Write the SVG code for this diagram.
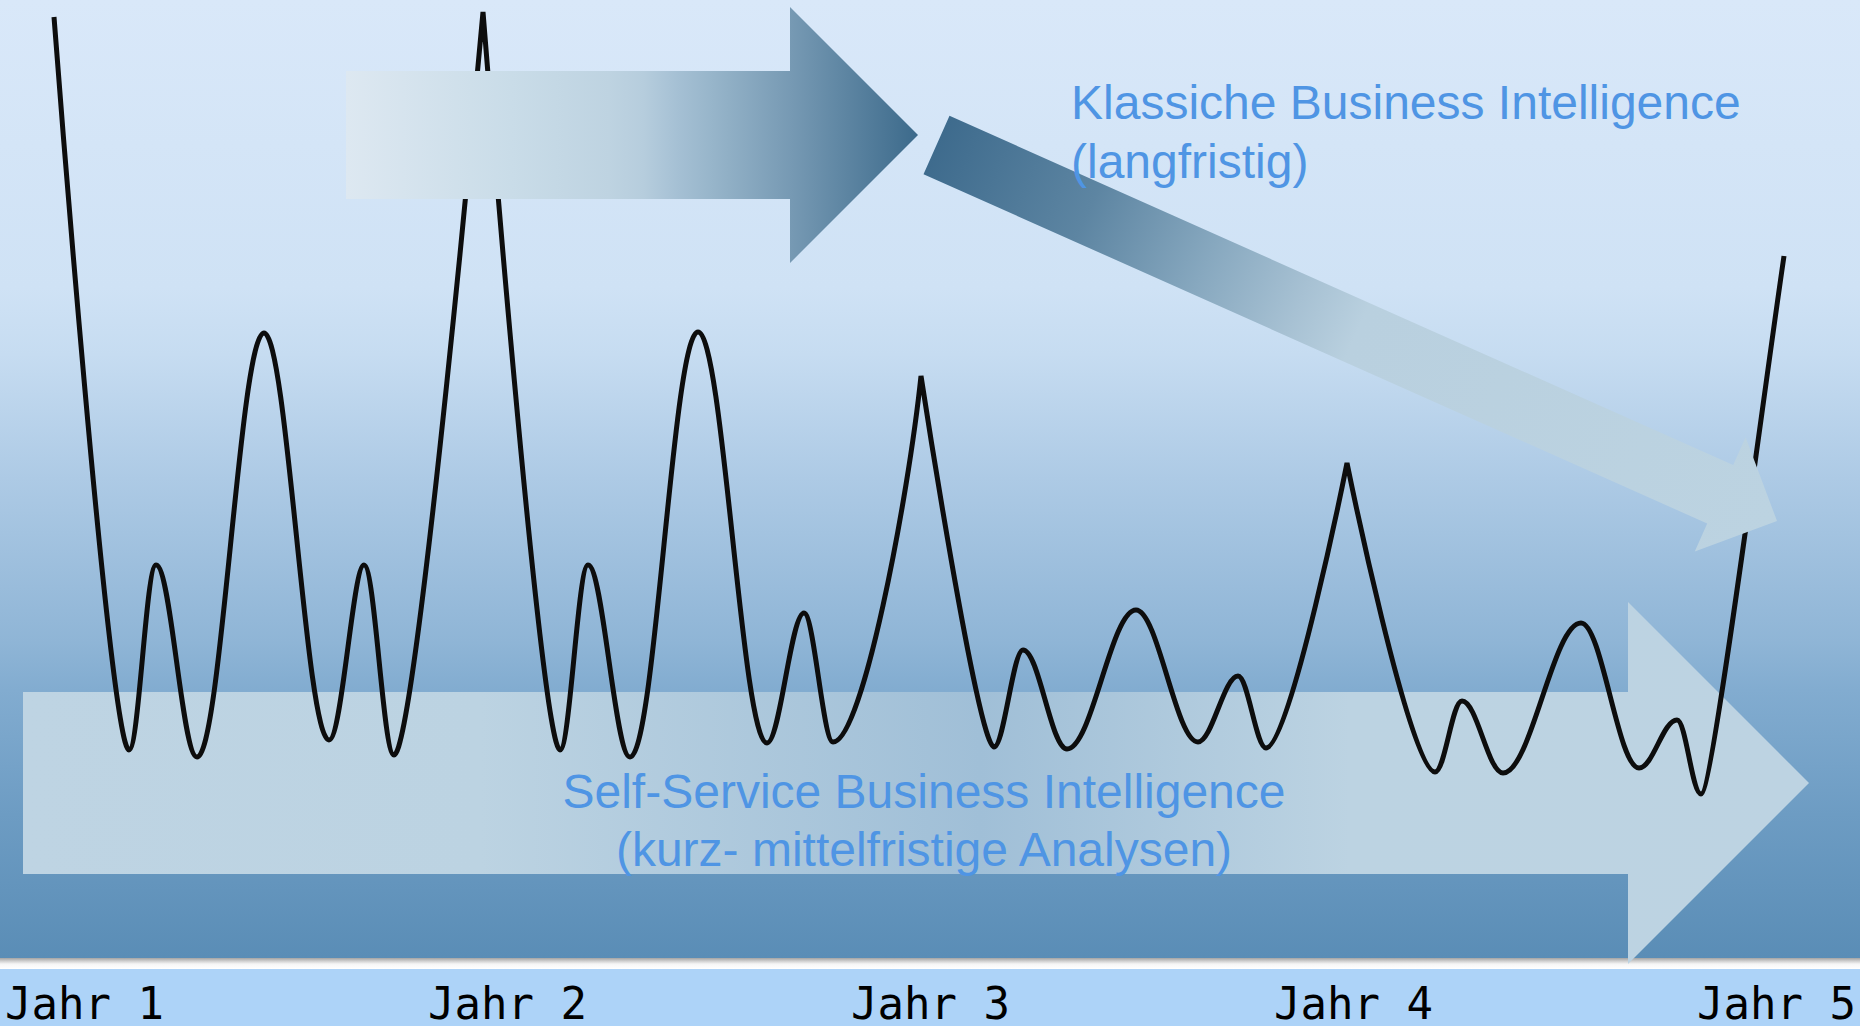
<svg xmlns="http://www.w3.org/2000/svg" width="1860" height="1026" viewBox="0 0 1860 1026">
  <defs>
    <linearGradient id="bg" x1="0" y1="0" x2="0" y2="958" gradientUnits="userSpaceOnUse">
      <stop offset="0" stop-color="#d9e8f9"/>
      <stop offset="0.3" stop-color="#cfe2f5"/>
      <stop offset="0.37" stop-color="#c6dcf1"/>
      <stop offset="0.5" stop-color="#adcae5"/>
      <stop offset="0.67" stop-color="#8fb5d6"/>
      <stop offset="0.72" stop-color="#82acd0"/>
      <stop offset="0.85" stop-color="#6d9cc3"/>
      <stop offset="1" stop-color="#5a8db6"/>
    </linearGradient>
    <linearGradient id="sep" x1="0" y1="958" x2="0" y2="969" gradientUnits="userSpaceOnUse">
      <stop offset="0" stop-color="#a4a4a4"/>
      <stop offset="0.3" stop-color="#d2d2d2"/>
      <stop offset="0.55" stop-color="#f6f6f6"/>
      <stop offset="1" stop-color="#ffffff"/>
    </linearGradient>
    <linearGradient id="gTop" x1="346" y1="0" x2="918" y2="0" gradientUnits="userSpaceOnUse">
      <stop offset="0" stop-color="#dde8f1"/>
      <stop offset="0.29" stop-color="#c9dce8"/>
      <stop offset="0.46" stop-color="#bed3e1"/>
      <stop offset="0.52" stop-color="#b6cddd"/>
      <stop offset="0.58" stop-color="#a5c0d4"/>
      <stop offset="0.64" stop-color="#97b5ca"/>
      <stop offset="0.78" stop-color="#7699b3"/>
      <stop offset="1" stop-color="#3c6a8b"/>
    </linearGradient>
    <linearGradient id="gDiag" x1="936" y1="145" x2="1777" y2="521" gradientUnits="userSpaceOnUse">
      <stop offset="0" stop-color="#3e6b8d"/>
      <stop offset="0.18" stop-color="#5d85a2"/>
      <stop offset="0.32" stop-color="#87a8bf"/>
      <stop offset="0.43" stop-color="#a7c1d3"/>
      <stop offset="0.5" stop-color="#b9d0df"/>
      <stop offset="1" stop-color="#bcd3e1"/>
    </linearGradient>
    <linearGradient id="gBot" x1="23" y1="0" x2="1809" y2="0" gradientUnits="userSpaceOnUse">
      <stop offset="0" stop-color="#bed4e3"/>
      <stop offset="0.256" stop-color="#bcd3e2"/>
      <stop offset="0.536" stop-color="#a0bfd7"/>
      <stop offset="0.743" stop-color="#bcd3e2"/>
      <stop offset="1" stop-color="#bdd3e2"/>
    </linearGradient>
    <style>
      .curve { fill: none; stroke: #0d0d0d; stroke-width: 5; }
      .bi { font-family: "Liberation Sans", Arial, sans-serif; font-size: 48px; fill: #4f95e4; }
      .year { font-family: "DejaVu Sans Mono", "Liberation Mono", monospace; font-size: 44px; fill: #000000; }
    </style>
  </defs>

  <g id="background">
    <rect x="0" y="0" width="1860" height="958" fill="url(#bg)"/>
    <rect x="0" y="958" width="1860" height="11" fill="url(#sep)"/>
    <rect x="0" y="969" width="1860" height="57" fill="#add3f8"/>
  </g>

  <g id="self-service-arrow">
    <polygon points="23,692 1628,692 1628,602 1809,783 1628,964 1628,874 23,874" fill="url(#gBot)"/>
  </g>

  <g id="curve">
    <path class="curve" d="M54,17 C54,17 110,750 129,750
      C139,750 146,565 156,565
      C171,565 182,757 197,757
      C221,757 240,333 264,333
      C287,333 306,740 329,740
      C342,740 353,565 364,565
      C375,565 383,755 394,755
      C416,755 483,12 483,12
      C483,12 541,750 560,750
      C570,750 578,565 588,565
      C603,565 615,757 630,757
      C655,757 673,332 698,332
      C723,332 742,743 767,743
      C780,743 791,613 804,613
      C814,613 823,742 833,742
      C862,742 908,500 921,376
      C921,376 978,747 994,747
      C1004,747 1013,650 1023,650
      C1039,650 1051,749 1067,749
      C1092,749 1111,610 1136,610
      C1158,610 1176,742 1198,742
      C1212,742 1224,676 1238,676
      C1248,676 1256,748 1266,748
      C1290,748 1347,463 1347,463
      C1347,463 1410,772 1435,772
      C1445,772 1452,701 1462,701
      C1477,701 1488,773 1503,773
      C1531,773 1553,623 1581,623
      C1602,623 1618,768 1639,768
      C1653,768 1663,720 1677,720
      C1686,720 1692,794 1701,794
      C1712,794 1760,420 1784,256"/>
  </g>

  <g id="classic-arrow-top">
    <polygon points="346,71 790,71 790,7 918,135 790,263 790,199 346,199" fill="url(#gTop)"/>
  </g>

  <g id="classic-arrow-diagonal">
    <polygon points="949.5,115.8 1733.2,465.1 1745.6,437.2 1777,521 1694.8,551.4 1707.2,523.5 923.5,174.2" fill="url(#gDiag)"/>
  </g>

  <g id="label-classic">
    <text class="bi" x="1071" y="119">Klassiche Business Intelligence</text>
    <text class="bi" x="1071" y="178">(langfristig)</text>
  </g>

  <g id="label-self-service">
    <text class="bi" x="924" y="808" text-anchor="middle">Self-Service Business Intelligence</text>
    <text class="bi" x="924" y="866" text-anchor="middle">(kurz- mittelfristige Analysen)</text>
  </g>

  <g id="axis-labels">
    <text class="year" x="5" y="1019">Jahr 1</text>
    <text class="year" x="428" y="1019">Jahr 2</text>
    <text class="year" x="851" y="1019">Jahr 3</text>
    <text class="year" x="1274" y="1019">Jahr 4</text>
    <text class="year" x="1697" y="1019">Jahr 5</text>
  </g>
</svg>
